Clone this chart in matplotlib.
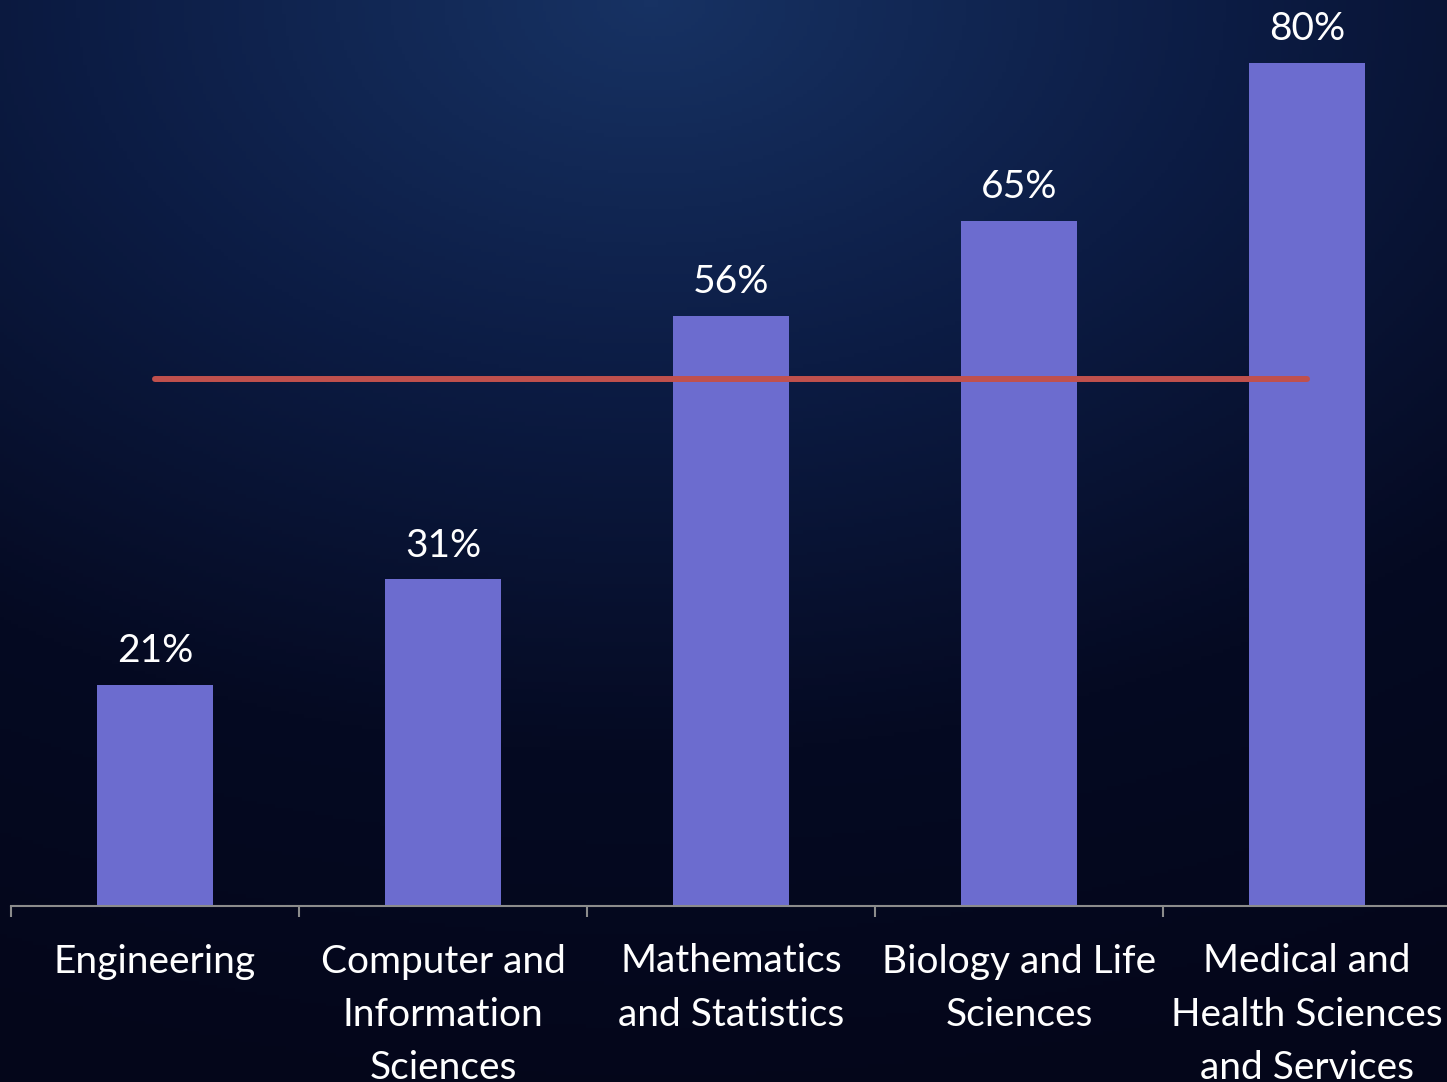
import numpy as np
import matplotlib.pyplot as plt
from matplotlib.colors import LinearSegmentedColormap

# datos
categorias = ["Engineering", "Computer and\nInformation\nSciences", "Mathematics\nand Statistics",
              "Biology and Life\nSciences", "Medical and\nHealth Sciences\nand Services"]
porcentajes = [21, 31, 56, 65, 80]
promedio = 50

plt.rcParams['font.family'] = ['Lato', 'DejaVu Sans']

fig = plt.figure(figsize=(14.47, 10.82), dpi=100)

# fondo degradado (azul oscuro, mas claro arriba al centro)
fondo = fig.add_axes([0, 0, 1, 1], zorder=-1)
yy, xx = np.mgrid[0:1:300j, 0:1:400j]
dist = np.sqrt(((xx - 0.45) * 1.1) ** 2 + (yy * 1.25) ** 2)
cmap_fondo = LinearSegmentedColormap.from_list("fondo", ["#173263", "#0c1c44", "#050a22", "#04061a"])
fondo.imshow(np.clip(dist, 0, 1.3), cmap=cmap_fondo, aspect='auto', extent=[0, 1, 1, 0])
fondo.axis('off')

ax = fig.add_axes([11 / 1447, 176 / 1082, 1440 / 1447, 906 / 1082])
ax.set_facecolor('none')

x = np.arange(len(categorias))
barras = ax.bar(x, porcentajes, width=0.4, color='#6c6ccf', zorder=2)
ax.plot([x[0], x[-1]], [promedio, promedio], color='#c0504d', lw=4.3,
        solid_capstyle='round', zorder=3)

for xi, v in zip(x, porcentajes):
    ax.annotate(f"{v}%", (xi, v), xytext=(0, 16.5), textcoords='offset points',
                ha='center', va='baseline', color='white', fontsize=28)

ax.set_xlim(-0.5, 4.5)
ax.set_ylim(0, 86)
ax.set_yticks([])
for s in ['top', 'right', 'left']:
    ax.spines[s].set_visible(False)
ax.spines['bottom'].set_color('#8c8c8c')
ax.spines['bottom'].set_linewidth(1.5)

ax.set_xticks(x)
ax.set_xticklabels(categorias, color='white', fontsize=28, linespacing=1.6)
ax.tick_params(axis='x', which='major', length=0, pad=27)
ax.set_xticks(np.arange(-0.5, 5, 1), minor=True)
ax.tick_params(axis='x', which='minor', length=8, width=1.5, color='#8c8c8c', direction='out')

fig.savefig("out.png", dpi=100)
